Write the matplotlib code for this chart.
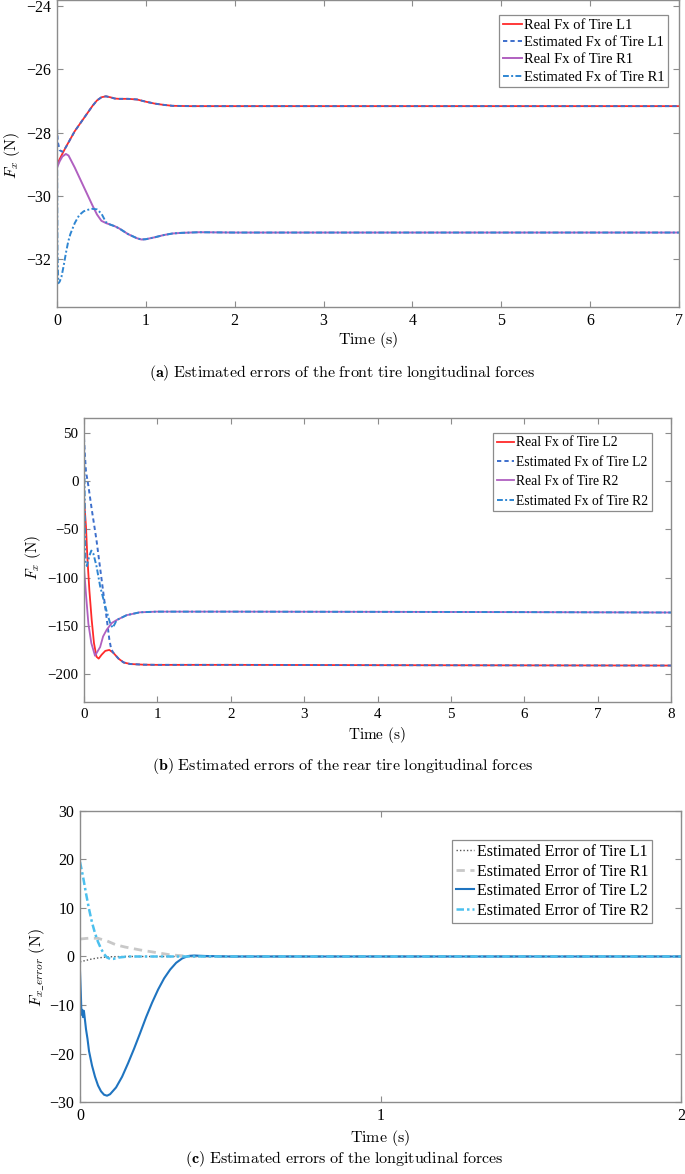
import matplotlib
matplotlib.use("Agg")
import matplotlib.pyplot as plt

plt.rcParams['font.family'] = ['Liberation Serif', 'DejaVu Serif']
plt.rcParams['mathtext.fontset'] = 'cm'

# ---------------- data: panel (a) front tires ----------------
a_t_real_L1 = [0, 0.05, 0.1, 0.15, 0.2, 0.25, 0.3, 0.35, 0.4, 0.45, 0.5, 0.55, 0.6, 0.65, 0.7, 0.8, 0.9, 1.0, 1.1, 1.2, 1.3, 1.5, 2, 7]
a_v_real_L1 = [-29.0, -28.72, -28.45, -28.2, -27.95, -27.75, -27.55, -27.35, -27.15, -26.98, -26.88, -26.85, -26.88, -26.92, -26.93, -26.93, -26.95, -27.02, -27.08, -27.12, -27.15, -27.16, -27.16, -27.16]
a_t_est_L1 = [0, 0.01, 0.03, 0.06, 0.09, 0.12, 0.15, 0.2, 0.25, 0.3, 0.35, 0.4, 0.45, 0.5, 0.55, 0.6, 0.65, 0.7, 0.8, 0.9, 1.0, 1.1, 1.2, 1.3, 1.5, 2, 7]
a_v_est_L1 = [-27.85, -28.3, -28.55, -28.6, -28.5, -28.36, -28.2, -27.95, -27.75, -27.55, -27.35, -27.15, -26.98, -26.88, -26.85, -26.88, -26.92, -26.93, -26.93, -26.95, -27.02, -27.08, -27.12, -27.15, -27.16, -27.16, -27.16]
a_t_real_R1 = [0, 0.03, 0.06, 0.1, 0.13, 0.2, 0.25, 0.3, 0.35, 0.4, 0.45, 0.5, 0.55, 0.6, 0.65, 0.7, 0.8, 0.9, 0.95, 1.0, 1.1, 1.2, 1.3, 1.4, 1.6, 2, 7]
a_v_real_R1 = [-29.1, -28.9, -28.75, -28.67, -28.72, -29.1, -29.4, -29.7, -30.0, -30.3, -30.58, -30.78, -30.85, -30.9, -30.95, -31.02, -31.2, -31.33, -31.37, -31.36, -31.3, -31.23, -31.18, -31.16, -31.14, -31.15, -31.15]
a_t_est_R1 = [0, 0.005, 0.015, 0.03, 0.05, 0.075, 0.1, 0.125, 0.15, 0.2, 0.25, 0.3, 0.35, 0.4, 0.45, 0.5, 0.55, 0.6, 0.65, 0.7, 0.8, 0.9, 0.95, 1.0, 1.1, 1.2, 1.3, 1.4, 1.6, 2, 7]
a_v_est_R1 = [-28.0, -31.8, -32.75, -32.7, -32.55, -32.2, -31.8, -31.45, -31.2, -30.85, -30.6, -30.48, -30.43, -30.4, -30.42, -30.55, -30.82, -30.9, -30.95, -31.02, -31.2, -31.33, -31.37, -31.36, -31.3, -31.23, -31.18, -31.16, -31.14, -31.15, -31.15]

# ---------------- data: panel (b) rear tires ----------------
b_t_real_L2 = [0, 0.027, 0.045, 0.073, 0.105, 0.136, 0.17, 0.2, 0.24, 0.29, 0.345, 0.4, 0.47, 0.54, 0.63, 0.81, 1.0, 2, 4, 6, 8]
b_v_real_L2 = [-18, -47, -78, -113, -144, -168, -182, -184, -180, -176, -175, -178, -184, -188, -189.6, -190.3, -190.5, -190.5, -190.8, -191, -191.2]
b_t_est_L2 = [0, 0.01, 0.027, 0.06, 0.105, 0.17, 0.24, 0.3, 0.345, 0.37, 0.4, 0.47, 0.54, 0.63, 0.81, 1.0, 2, 4, 6, 8]
b_v_est_L2 = [45, 30, 10, -5, -29, -61, -102, -137, -164, -174, -178, -184, -188, -189.6, -190.3, -190.5, -190.5, -190.8, -191, -191.2]
b_t_real_R2 = [0, 0.03, 0.06, 0.1, 0.15, 0.22, 0.26, 0.31, 0.38, 0.445, 0.58, 0.76, 0.99, 2, 4, 6, 8]
b_v_real_R2 = [-90, -120, -148, -168, -181, -172, -161, -154, -147, -144, -139, -136, -135.3, -135.3, -135.5, -135.8, -136.2]
b_t_est_R2 = [0, 0.01, 0.02, 0.04, 0.07, 0.1, 0.127, 0.17, 0.22, 0.29, 0.355, 0.39, 0.42, 0.445, 0.58, 0.76, 0.99, 2, 4, 6, 8]
b_v_est_R2 = [42, -20, -85, -88, -78, -72, -75, -88, -109, -130, -147, -152, -148, -144, -139, -136, -135.3, -135.3, -135.5, -135.8, -136.2]

# ---------------- data: panel (c) estimation errors ----------------
c_t_L1 = [0, 0.02, 0.04, 0.06, 0.08, 0.1, 0.15, 2]
c_v_L1 = [-1.1, -0.8, -0.5, -0.3, -0.15, -0.05, 0, 0]
c_t_R1 = [0, 0.03, 0.06, 0.09, 0.12, 0.15, 0.2, 0.25, 0.3, 0.35, 0.4, 0.45, 2]
c_v_R1 = [3.6, 3.78, 3.75, 3.2, 2.4, 1.95, 1.35, 0.85, 0.35, 0.1, 0.02, 0, 0]
c_t_L2 = [0, 0.003, 0.005, 0.008, 0.01, 0.013, 0.016, 0.02, 0.025, 0.03, 0.04, 0.05, 0.06, 0.07, 0.08, 0.09, 0.1, 0.12, 0.14, 0.16, 0.18, 0.2, 0.22, 0.24, 0.26, 0.28, 0.3, 0.32, 0.34, 0.36, 0.38, 0.42, 0.5, 2]
c_v_L2 = [-3, -8, -12, -11, -12.5, -11.2, -12.8, -15, -17, -19.5, -22.5, -24.8, -26.6, -27.8, -28.5, -28.7, -28.4, -27, -24.8, -22, -19, -15.8, -12.5, -9.5, -6.8, -4.5, -2.7, -1.3, -0.4, 0.1, 0.2, 0.1, 0, 0]
c_t_R2 = [0, 0.01, 0.02, 0.03, 0.04, 0.05, 0.06, 0.07, 0.08, 0.09, 0.1, 0.11, 0.13, 0.16, 2]
c_v_R2 = [19.5, 16.5, 13, 9.8, 7, 4.8, 3.0, 1.6, 0.5, -0.2, -0.5, -0.5, -0.2, 0, 0]

a_labels = ["Real Fx of Tire L1", "Estimated Fx of Tire L1", "Real Fx of Tire R1", "Estimated Fx of Tire R1"]
b_labels = ["Real Fx of Tire L2", "Estimated Fx of Tire L2", "Real Fx of Tire R2", "Estimated Fx of Tire R2"]
c_labels = ["Estimated Error of Tire L1", "Estimated Error of Tire R1", "Estimated Error of Tire L2", "Estimated Error of Tire R2"]

W, H = 685, 1174
fig = plt.figure(figsize=(W / 100, H / 100), dpi=100)

RED = '#FF2A2A'
BLUE_D = '#3D6FCC'
PURPLE = '#B060C0'
BLUE_DD = '#2F86D2'
SPINE = '#8C8C8C'


def px_axes(l, r, t, b):
    return fig.add_axes([l / W, 1 - b / H, (r - l) / W, (b - t) / H])


def style(ax, fs):
    for s in ax.spines.values():
        s.set_color(SPINE)
        s.set_linewidth(1.0)
    ax.tick_params(direction='in', length=4, width=0.8, color=SPINE,
                   top=True, right=True, labelsize=fs, pad=4)


def ftext(x, y, s, **kw):
    fig.text(x / W, 1 - y / H, s, ha='center', va='center', **kw)


def legend(ax, labels, right, top, fs, ls, hl=1.3):
    lg = ax.legend(labels, loc='upper right', bbox_to_anchor=(right / W, 1 - top / H),
                   bbox_transform=fig.transFigure, borderaxespad=0, fontsize=fs,
                   labelspacing=ls, handlelength=hl, handletextpad=0.15,
                   borderpad=0.25, fancybox=False, framealpha=1)
    lg.get_frame().set_edgecolor('#8C8C8C')
    lg.get_frame().set_linewidth(0.9)
    return lg


# ---------------- panel (a) ----------------
ax1 = px_axes(57, 679, 0, 307)
ax1.plot(a_t_real_L1, a_v_real_L1, color=RED, lw=1.3)
ax1.plot(a_t_est_L1, a_v_est_L1, color=BLUE_D, lw=1.4, ls=(0, (2.2, 1.6)))
ax1.plot(a_t_real_R1, a_v_real_R1, color=PURPLE, lw=1.4)
ax1.plot(a_t_est_R1, a_v_est_R1, color=BLUE_DD, lw=1.4, ls=(0, (3, 1.2, 1, 1.2)))
ax1.set_xlim(0, 7)
ax1.set_ylim(-33.5, -23.81)
ax1.set_xticks(range(0, 8))
ax1.set_yticks([-32, -30, -28, -26, -24])
style(ax1, 11.5)
legend(ax1, a_labels, 668, 15, 10.5, 0.28)
ftext(12, 155, r"$F_x\ \mathrm{(N)}$", rotation=90, fontsize=11.5)
ftext(368, 340, r"$\mathrm{Time\ (s)}$", fontsize=11.5)
ftext(342, 373, r"$\mathbf{(a)}\ \mathrm{Estimated\ errors\ of\ the\ front\ tire\ longitudinal\ forces}$", fontsize=11.5)

# ---------------- panel (b) ----------------
ax2 = px_axes(84, 671, 418, 702)
ax2.plot(b_t_real_L2, b_v_real_L2, color=RED, lw=1.3)
ax2.plot(b_t_est_L2, b_v_est_L2, color=BLUE_D, lw=1.4, ls=(0, (2.2, 1.6)))
ax2.plot(b_t_real_R2, b_v_real_R2, color=PURPLE, lw=1.3)
ax2.plot(b_t_est_R2, b_v_est_R2, color=BLUE_DD, lw=1.4, ls=(0, (3, 1.2, 1, 1.2)))
ax2.set_xlim(0, 8)
ax2.set_ylim(-229, 65.5)
ax2.set_xticks(range(0, 9))
ax2.set_yticks([-200, -150, -100, -50, 0, 50])
style(ax2, 10.8)
legend(ax2, b_labels, 652, 433, 9.8, 0.47)
ftext(33, 557, r"$F_x\ \mathrm{(N)}$", rotation=90, fontsize=11)
ftext(377, 735, r"$\mathrm{Time\ (s)}$", fontsize=11)
ftext(342, 766, r"$\mathbf{(b)}\ \mathrm{Estimated\ errors\ of\ the\ rear\ tire\ longitudinal\ forces}$", fontsize=11.5)

# ---------------- panel (c) ----------------
ax3 = px_axes(80, 681, 811, 1102)
ax3.plot(c_t_L1, c_v_L1, color='#555555', lw=1.0, ls=(0, (1, 1.5)))
ax3.plot(c_t_R1, c_v_R1, color='#C8C8C8', lw=2.0, ls=(0, (3, 2)))
ax3.plot(c_t_L2, c_v_L2, color='#1F74C0', lw=1.5)
ax3.plot(c_t_R2, c_v_R2, color='#4CC0EE', lw=1.8, ls=(0, (3, 1.2, 1, 1.2)))
ax3.set_xlim(0, 2)
ax3.set_ylim(-30, 30)
ax3.set_xticks([0, 1, 2])
ax3.set_yticks([-30, -20, -10, 0, 10, 20, 30])
style(ax3, 11.5)
legend(ax3, c_labels, 652, 840, 11.5, 0.22, hl=1.15)
ftext(37, 968, r"$F_{x\_error}\ \mathrm{(N)}$", rotation=90, fontsize=11.5)
ftext(380, 1138, r"$\mathrm{Time\ (s)}$", fontsize=11.5)
ftext(344, 1159, r"$\mathbf{(c)}\ \mathrm{Estimated\ errors\ of\ the\ longitudinal\ forces}$", fontsize=11.5)

fig.savefig("out.png", dpi=100)
